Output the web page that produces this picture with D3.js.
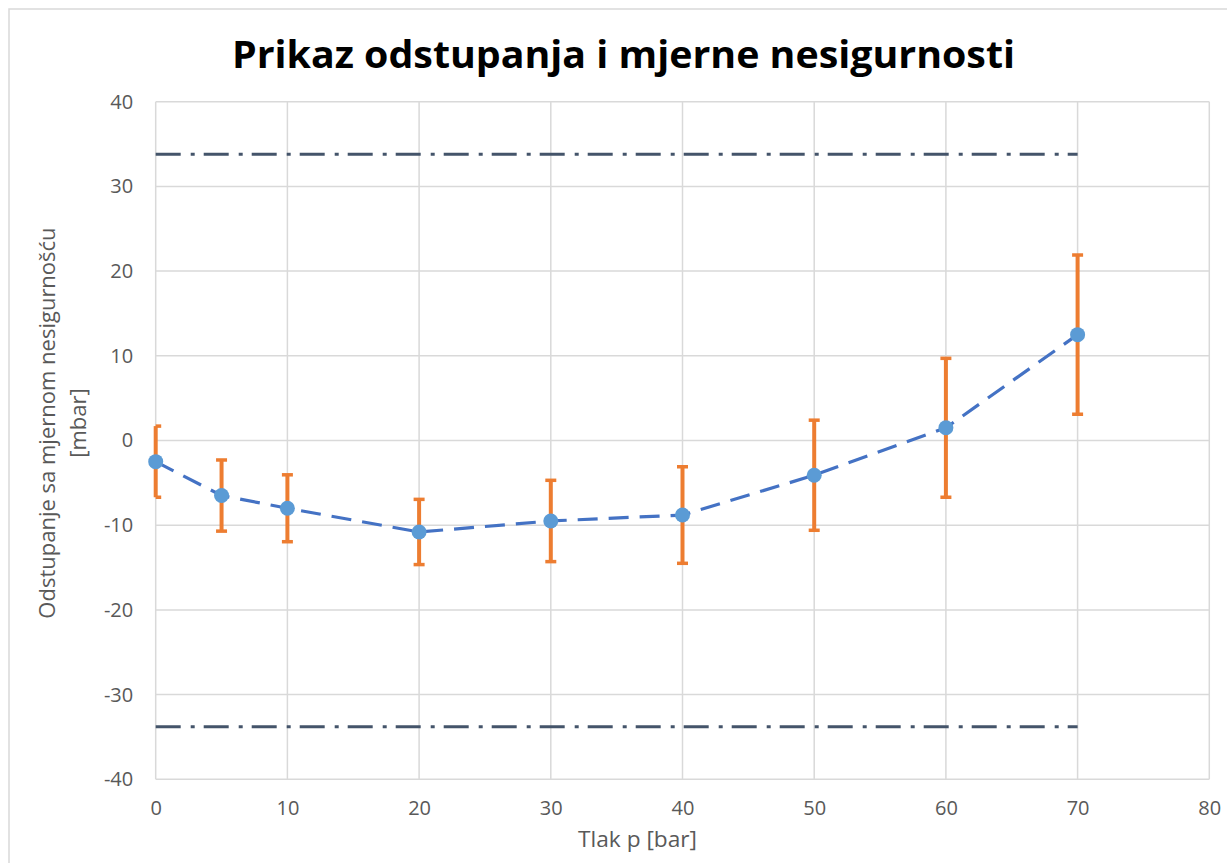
<!DOCTYPE html>
<html><head><meta charset="utf-8">
<script src="https://cdn.jsdelivr.net/npm/d3@7"></script>
<style>body{margin:0;background:#fff;} svg{display:block;}</style>
</head><body>
<svg id="chart" width="1227" height="863"></svg>
<script>
const pressures = [0, 5, 10, 20, 30, 40, 50, 60, 70];
const deviations = [-2.5, -6.5, -8.0, -10.8, -9.5, -8.8, -4.1, 1.5, 12.5];
const uncertainty = [4.2, 4.2, 3.95, 3.85, 4.8, 5.7, 6.5, 8.2, 9.4];
const limitValue = 33.8;
const limitRange = [0, 70];
const xTicks = [0, 10, 20, 30, 40, 50, 60, 70, 80];
const yTicks = [-40, -30, -20, -10, 0, 10, 20, 30, 40];
const titleText = "Prikaz odstupanja i mjerne nesigurnosti";
const xTitle = "Tlak p [bar]";
const yTitleLines = ["Odstupanje sa mjernom nesigurnošću", "[mbar]"];

const svg = d3.select("#chart");
const font = "'Open Sans', 'Noto Sans', sans-serif";
const L = 155.7, R = 1209.3, T = 101.7, B = 779.3;
const x = d3.scaleLinear().domain([0, 80]).range([L, R]);
const y = d3.scaleLinear().domain([-40, 40]).range([B, T]);

// chart border
svg.append("rect").attr("x", 9).attr("y", 9).attr("width", 1240).attr("height", 880)
  .attr("fill", "#fff").attr("stroke", "#D9D9D9").attr("stroke-width", 1.5);

// gridlines
const grid = svg.append("g");
grid.selectAll(".gx").data(xTicks).join("line")
  .attr("x1", d => x(d)).attr("x2", d => x(d)).attr("y1", T).attr("y2", B)
  .attr("stroke", "#D9D9D9").attr("stroke-width", 1.5);
grid.selectAll(".gy").data(yTicks).join("line")
  .attr("x1", L).attr("x2", R).attr("y1", d => y(d)).attr("y2", d => y(d))
  .attr("stroke", "#D9D9D9").attr("stroke-width", 1.5);

// axes (labels only)
const fmt = d => String(d);
const xAxis = svg.append("g").attr("transform", `translate(0,${B})`)
  .call(d3.axisBottom(x).tickValues(xTicks).tickFormat(fmt).tickSize(0).tickPadding(22));
xAxis.select(".domain").remove();
xAxis.selectAll("text").attr("font-family", font).attr("font-size", 20).attr("fill", "#595959");
const yAxis = svg.append("g").attr("transform", `translate(${L},0)`)
  .call(d3.axisLeft(y).tickValues(yTicks).tickFormat(fmt).tickSize(0).tickPadding(22.5));
yAxis.select(".domain").remove();
yAxis.selectAll("text").attr("font-family", font).attr("font-size", 20).attr("fill", "#595959");

// limit lines
[limitValue, -limitValue].forEach(v => {
  svg.append("line").attr("x1", x(limitRange[0])).attr("x2", x(limitRange[1]))
    .attr("y1", y(v)).attr("y2", y(v))
    .attr("stroke", "#44546A").attr("stroke-width", 3)
    .attr("stroke-dasharray", "25,10,4,9");
});

// data line
const line = d3.line().x((d, i) => x(pressures[i])).y(d => y(d));
svg.append("path").datum(deviations).attr("d", line)
  .attr("fill", "none").attr("stroke", "#4472C4").attr("stroke-width", 3.2)
  .attr("stroke-dasharray", "20,11");

// error bars
const eb = svg.append("g");
pressures.forEach((p, i) => {
  const top = y(deviations[i] + uncertainty[i]), bot = y(deviations[i] - uncertainty[i]);
  eb.append("line").attr("x1", x(p)).attr("x2", x(p)).attr("y1", top).attr("y2", bot)
    .attr("stroke", "#ED7D31").attr("stroke-width", 4);
  const capL = p === 0 ? x(p) : x(p) - 5.5;
  [top, bot].forEach(yy => eb.append("line").attr("x1", capL).attr("x2", x(p) + 5.5)
    .attr("y1", yy).attr("y2", yy).attr("stroke", "#ED7D31").attr("stroke-width", 3.5));
});

// markers
svg.append("g").selectAll("circle").data(deviations).join("circle")
  .attr("cx", (d, i) => x(pressures[i])).attr("cy", d => y(d)).attr("r", 7.5)
  .attr("fill", "#5B9BD5");

// title
svg.append("text").attr("x", 623.5).attr("y", 68).attr("text-anchor", "middle")
  .attr("font-family", font).attr("font-weight", "bold").attr("font-size", 37)
  .attr("textLength", 783).attr("lengthAdjust", "spacingAndGlyphs")
  .attr("fill", "#000").text(titleText);

// axis titles
svg.append("text").attr("x", 637.5).attr("y", 847).attr("text-anchor", "middle")
  .attr("font-family", font).attr("font-size", 22).attr("fill", "#595959")
  .attr("textLength", 119).attr("lengthAdjust", "spacingAndGlyphs").text(xTitle);
const yTitleX = [55, 86];
yTitleLines.forEach((t, i) => {
  svg.append("text").attr("transform", `translate(${yTitleX[i]},423) rotate(-90)`)
    .attr("text-anchor", "middle").attr("font-family", font).attr("font-size", 22)
    .attr("fill", "#595959").text(t);
});
</script>
</body></html>
